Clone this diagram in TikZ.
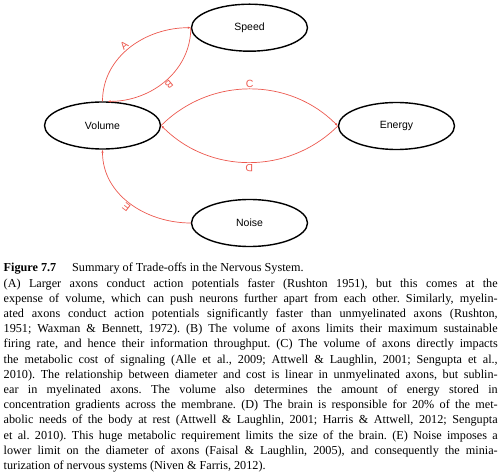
\documentclass[tikz,border=0pt]{standalone}
\usepackage{fontspec}
\setmainfont{Liberation Serif}
\setsansfont{Liberation Sans}
\usetikzlibrary{shapes.geometric,arrows.meta}
\definecolor{linkred}{RGB}{236,88,78}

\begin{document}
\begin{tikzpicture}[x=1pt,y=1pt,
  state/.style={ellipse,draw=black,line width=1.4pt,minimum width=116pt,minimum height=47pt,inner sep=0pt,font=\sffamily\fontsize{10.5}{12}\selectfont},
  tradeoff/.style={draw=linkred,line width=0.7pt,-{Latex[length=3pt,width=2.4pt]}},
  lab/.style={sloped,allow upside down,above,inner sep=1.5pt,text=linkred,font=\sffamily\fontsize{10.5}{12}\selectfont}]
  \useasboundingbox (0,0) rectangle (500,474);
  \node[state] (speed) at (249.5,446.3) {Speed};
  \node[state] (volume) at (102.5,348.5) {Volume};
  \node[state] (energy) at (396.5,348) {Energy};
  \node[state] (noise) at (249.5,251) {Noise};
  \draw[tradeoff] (volume.north) to[out=90,in=180] node[lab,pos=0.48] {A} (speed.west);
  \draw[tradeoff] (speed.west) to[out=-90,in=0] node[lab] {B} (volume.78);
  \draw[tradeoff] (volume.east) to[bend left=45] node[lab] {C} (energy.west);
  \draw[tradeoff] (energy.west) to[bend left=45] node[lab] {D} (volume.east);
  \draw[tradeoff] (noise.west) to[out=180,in=-90] node[lab] {E} (volume.south);
  \node[anchor=base west,inner sep=0pt,text width=494pt,align=justify,
    font=\fontsize{12.2}{15.2}\selectfont] (caption) at (3.5,202) {\frenchspacing\tolerance=10000\hyphenpenalty=10000
    \textbf{Figure 7.7}\hspace{1.3em}Summary of Trade-offs in the Nervous System.\\
    (A) Larger axons conduct action potentials faster (Rushton 1951), but this comes at the\linebreak{}
    expense of volume, which can push neurons further apart from each other. Similarly, myelin-\linebreak{}
    ated axons conduct action potentials significantly faster than unmyelinated axons (Rushton,\linebreak{}
    1951; Waxman \& Bennett, 1972). (B) The volume of axons limits their maximum sustainable\linebreak{}
    firing rate, and hence their information throughput. (C) The volume of axons directly impacts\linebreak{}
    the metabolic cost of signaling (Alle et al., 2009; Attwell \& Laughlin, 2001; Sengupta et al.,\linebreak{}
    2010). The relationship between diameter and cost is linear in unmyelinated axons, but sublin-\linebreak{}
    ear in myelinated axons. The volume also determines the amount of energy stored in\linebreak{}
    concentration gradients across the membrane. (D) The brain is responsible for 20\% of the met-\linebreak{}
    abolic needs of the body at rest (Attwell \& Laughlin, 2001; Harris \& Attwell, 2012; Sengupta\linebreak{}
    et al. 2010). This huge metabolic requirement limits the size of the brain. (E) Noise imposes a\linebreak{}
    lower limit on the diameter of axons (Faisal \& Laughlin, 2005), and consequently the minia-\linebreak{}
    turization of nervous systems (Niven \& Farris, 2012).};
\end{tikzpicture}
\end{document}
